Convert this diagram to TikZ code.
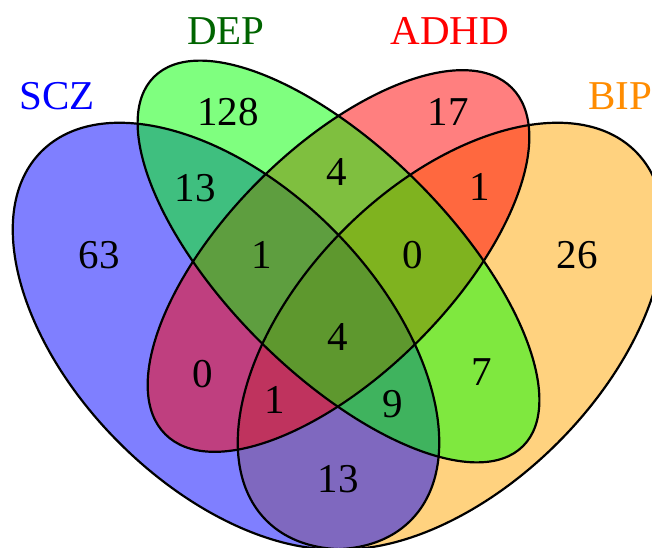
\documentclass[tikz,border=0pt]{standalone}
\usepackage{fontspec}
\setmainfont{Liberation Serif}
\begin{document}
\begin{tikzpicture}[x=1pt,y=1pt]
\definecolor{cblue}{RGB}{0,0,255}
\definecolor{cgreen}{RGB}{0,255,0}
\definecolor{cred}{RGB}{255,0,0}
\definecolor{corange}{RGB}{255,165,0}
\definecolor{ldep}{RGB}{0,100,0}
\definecolor{lbip}{RGB}{255,140,0}
\tikzset{
  setfill/.style={fill=#1, fill opacity=0.5, draw=none},
  setline/.style={draw=black, line width=2.2pt},
  num/.style={font=\fontsize{41}{41}\selectfont, inner sep=0pt, text=black},
  setlabel/.style={font=\fontsize{41}{41}\selectfont, inner sep=0pt, text=#1}
}
\useasboundingbox (0,0) rectangle (652,547);
\clip (0,0) rectangle (652,547);
\coordinate (cBIP) at (451,211);
\coordinate (cSCZ) at (226,211);
\coordinate (cADHD) at (338.5,286);
\coordinate (cDEP) at (338.5,285.5);
% fills
\path[setfill=corange, rotate around={45:(cBIP)}] (cBIP) ellipse [x radius=261pt, y radius=151pt];
\path[setfill=cblue, rotate around={-45:(cSCZ)}] (cSCZ) ellipse [x radius=261pt, y radius=151pt];
\path[setfill=cred, rotate around={45:(cADHD)}] (cADHD) ellipse [x radius=245pt, y radius=113pt];
\path[setfill=cgreen, rotate around={-45:(cDEP)}] (cDEP) ellipse [x radius=261pt, y radius=112pt];
% outlines
\path[setline, rotate around={45:(cBIP)}] (cBIP) ellipse [x radius=261pt, y radius=151pt];
\path[setline, rotate around={-45:(cSCZ)}] (cSCZ) ellipse [x radius=261pt, y radius=151pt];
\path[setline, rotate around={45:(cADHD)}] (cADHD) ellipse [x radius=245pt, y radius=113pt];
\path[setline, rotate around={-45:(cDEP)}] (cDEP) ellipse [x radius=261pt, y radius=112pt];
% labels
\node[setlabel=cblue] (lSCZ) at (57,451) {SCZ};
\node[setlabel=ldep] (lDEP) at (226,516) {DEP};
\node[setlabel=cred] (lADHD) at (450,516) {ADHD};
\node[setlabel=lbip] (lBIP) at (620,451) {BIP};
% counts
\node[num] (n1) at (228,435) {128};
\node[num] (n2) at (195,359) {13};
\node[num] (n3) at (99,292) {63};
\node[num] (n4) at (262,292) {1};
\node[num] (n5) at (337,375) {4};
\node[num] (n6) at (448,435) {17};
\node[num] (n7) at (480,360) {1};
\node[num] (n8) at (413,292) {0};
\node[num] (n9) at (577,292) {26};
\node[num] (n10) at (338,210) {4};
\node[num] (n11) at (482,175) {7};
\node[num] (n12) at (393,143) {9};
\node[num] (n13) at (338,68) {13};
\node[num] (n14) at (203,173) {0};
\node[num] (n15) at (275,147) {1};
\end{tikzpicture}
\end{document}
